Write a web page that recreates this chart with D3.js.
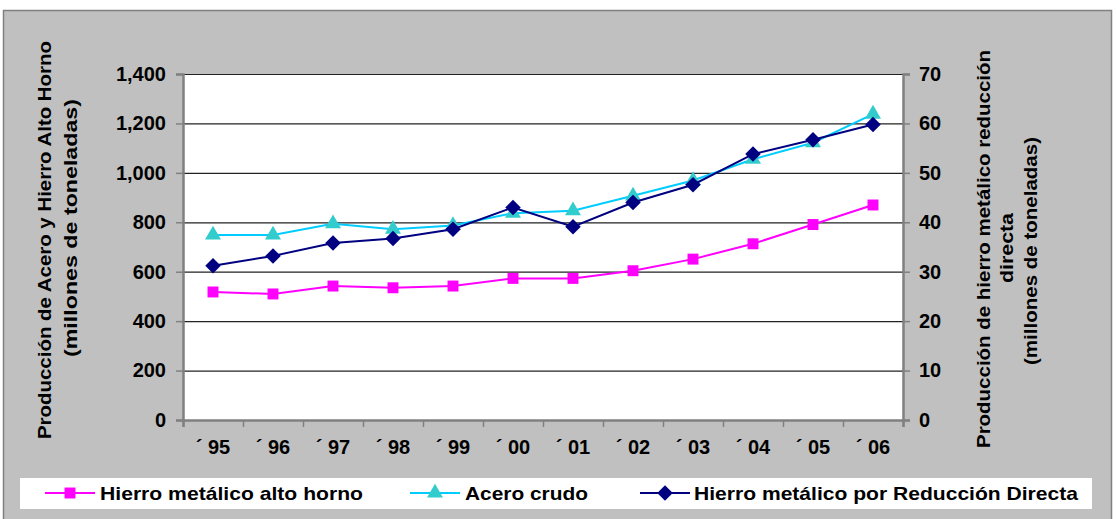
<!DOCTYPE html>
<html><head><meta charset="utf-8">
<script src="https://cdn.jsdelivr.net/npm/d3@7"></script>
<style>body{margin:0;background:#fff;} svg{display:block;font-family:"Liberation Sans",Arial,sans-serif;}</style>
</head><body>
<svg id="c" width="1117" height="519"></svg>
<script>
const years = ["´ 95","´ 96","´ 97","´ 98","´ 99","´ 00","´ 01","´ 02","´ 03","´ 04","´ 05","´ 06"];
const hierroAltoHorno = [518,510,542,535,542,573,573,604,651,713,791,870];
const aceroCrudo = [749,749,794,772,787,837,847,907,969,1055,1122,1238];
const reduccionDirecta = [31.2,33.2,35.8,36.7,38.6,43.0,39.1,44.0,47.6,53.8,56.7,59.8];
const leftTicks = [0,200,400,600,800,1000,1200,1400];
const rightTicks = [0,10,20,30,40,50,60,70];
const seriesNames = ["Hierro metálico alto horno","Acero crudo","Hierro metálico por Reducción Directa"];

const svg = d3.select("#c");
const L=183, R=903, T=74, B=420;

svg.append("rect").attr("x",3.5).attr("y",10.5).attr("width",1108).attr("height",515)
  .attr("fill","#c0c0c0").attr("stroke","#808080").attr("stroke-width",1.5);
svg.append("rect").attr("x",L).attr("y",T).attr("width",R-L).attr("height",B-T).attr("fill","#fff");

const x = d3.scaleBand().domain(years).range([L,R]);
const xc = d => x(d)+x.bandwidth()/2;
const xi = d3.scaleLinear().domain([0,years.length]).range([L,R]);
const yL = d3.scaleLinear().domain([0,1400]).range([B,T]);
const yR = d3.scaleLinear().domain([0,70]).range([B,T]);

svg.append("g").attr("transform",`translate(${L},0)`)
  .call(d3.axisLeft(yL).tickValues(leftTicks.slice(1)).tickSize(-(R-L)).tickFormat(""))
  .call(g=>g.select(".domain").remove())
  .call(g=>g.selectAll("line").attr("stroke","#222").attr("stroke-width",1.2));

const labelStyle = g => g.selectAll("text").attr("font-size","20px").attr("font-weight","bold").attr("fill","#000");

svg.append("g").attr("transform",`translate(${L},0)`)
  .call(d3.axisLeft(yL).tickValues(leftTicks).tickSize(7).tickPadding(10).tickFormat(d3.format(",")))
  .call(g=>g.select(".domain").attr("stroke","#808080").attr("stroke-width",2.5))
  .call(g=>g.selectAll(".tick line").attr("stroke","#808080").attr("stroke-width",1.5))
  .call(labelStyle);

svg.append("g").attr("transform",`translate(${R},0)`)
  .call(d3.axisRight(yR).tickValues(rightTicks).tickSize(7).tickPadding(9))
  .call(g=>g.select(".domain").attr("stroke","#808080").attr("stroke-width",2.5))
  .call(g=>g.selectAll(".tick line").attr("stroke","#808080").attr("stroke-width",1.5))
  .call(labelStyle);

svg.append("g").attr("transform",`translate(0,${B})`)
  .call(d3.axisBottom(xi).tickValues(d3.range(years.length+1)).tickSize(7).tickFormat(""))
  .call(g=>g.select(".domain").attr("stroke","#808080").attr("stroke-width",2.5))
  .call(g=>g.selectAll(".tick line").attr("stroke","#808080").attr("stroke-width",1.5));
svg.append("g").attr("transform",`translate(0,${B})`)
  .call(d3.axisBottom(x).tickSize(0).tickPadding(20))
  .call(g=>g.select(".domain").remove())
  .call(labelStyle);

// axis titles
const title = (lines) => {
  lines.forEach(l => {
    svg.append("text").attr("transform",`translate(${l.x},${l.c}) rotate(-90)`).attr("text-anchor","middle")
      .attr("x",0).attr("y",0).attr("font-size","19px").attr("font-weight","bold").attr("fill","#000")
      .attr("textLength",l.w).attr("lengthAdjust","spacingAndGlyphs").text(l.t);
  });
};
title([
  {t:"Producción de Acero y Hierro Alto Horno", x:51, c:240, w:398},
  {t:"(millones de toneladas)", x:77, c:228, w:258}
]);
title([
  {t:"Producción de hierro metálico reducción", x:990, c:249, w:398},
  {t:"directa", x:1013, c:248, w:70},
  {t:"(millones de toneladas)", x:1037, c:251, w:228}
]);

const diamond = { draw(ctx, size){ const r=Math.sqrt(size/2); ctx.moveTo(0,-r); ctx.lineTo(r,0); ctx.lineTo(0,r); ctx.lineTo(-r,0); ctx.closePath(); } };
const series = [
  {name:seriesNames[0], vals:hierroAltoHorno, y:yL, line:"#ff00ff", fill:"#ff00ff", sym:d3.symbolSquare, size:120},
  {name:seriesNames[1], vals:aceroCrudo, y:yL, line:"#00ccff", fill:"#33cccc", sym:d3.symbolTriangle, size:110},
  {name:seriesNames[2], vals:reduccionDirecta, y:yR, line:"#000080", fill:"#000080", sym:diamond, size:120}
];
series.forEach(s => {
  const line = d3.line().x((d,i)=>xc(years[i])).y(d=>s.y(d));
  svg.append("path").datum(s.vals).attr("d",line).attr("fill","none").attr("stroke",s.line).attr("stroke-width",2);
  svg.append("g").selectAll("path").data(s.vals).join("path")
    .attr("transform",(d,i)=>`translate(${xc(years[i])},${s.y(d)})`)
    .attr("d",d3.symbol(s.sym,s.size)).attr("fill",s.fill);
});

// legend
svg.append("rect").attr("x",20).attr("y",478).attr("width",1072).attr("height",31).attr("fill","#fff");
const legPos = [{x0:45, tx:100, w:263},{x0:410, tx:465, w:123},{x0:640, tx:694, w:384}];
series.forEach((s,i)=>{
  const p = legPos[i], cy=493;
  svg.append("line").attr("x1",p.x0).attr("x2",p.x0+50).attr("y1",cy).attr("y2",cy).attr("stroke",s.line).attr("stroke-width",2);
  svg.append("path").attr("transform",`translate(${p.x0+25},${cy})`).attr("d",d3.symbol(s.sym,s.size)).attr("fill",s.fill);
  svg.append("text").attr("x",p.tx).attr("y",cy+7).attr("font-size","19px").attr("font-weight","bold")
    .attr("textLength",p.w).attr("lengthAdjust","spacingAndGlyphs").attr("fill","#000").text(s.name);
});
</script>
</body></html>
